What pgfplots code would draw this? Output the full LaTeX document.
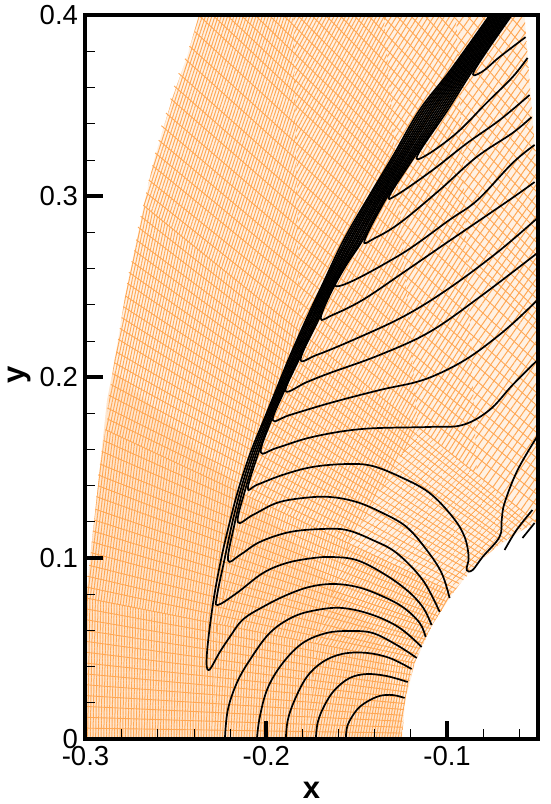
\documentclass[border=0pt]{standalone}
\usepackage{fontspec}
\setmainfont{Liberation Sans}
\usepackage{pgfplots}
\pgfplotsset{compat=1.18}
\usetikzlibrary{patterns.meta}
\definecolor{meshc}{RGB}{255,168,85}
\definecolor{meshb}{RGB}{255,241,227}
\definecolor{meshp}{RGB}{255,230,206}
\newcommand{\hatch}[3]{\addplot[draw=none,forget plot,mark=none,pattern={Lines[angle=#1,distance=#2pt,line width=1pt]},pattern color=meshc] coordinates {#3} --cycle;}
\pgfplotsset{cc/.style={black,solid,mark=none,line width=1.7pt,smooth,tension=0.6,forget plot,line join=round}}
\begin{document}
\begin{tikzpicture}
\path[use as bounding box] (-85.5pt,-65pt) rectangle (464.5pt,739pt);
\begin{axis}[
 at={(0pt,0pt)},anchor=south west,
 scale only axis,width=452pt,height=723.6pt,
 xmin=-0.3,xmax=-0.05,ymin=0,ymax=0.4,
 axis line style={line width=4pt,line cap=rect},
 axis on top,tick align=inside,
 xtick pos=bottom,ytick pos=left,
 xtick={-0.3,-0.2,-0.1},xticklabels={-0.3,-0.2,-0.1},
 ytick={0,0.1,0.2,0.3,0.4},yticklabels={0,0.1,0.2,0.3,0.4},
 minor xtick={-0.28,-0.26,-0.24,-0.22,-0.18,-0.16,-0.14,-0.12,-0.08,-0.06},
 minor ytick={0.02,0.04,0.06,0.08,0.12,0.14,0.16,0.18,0.22,0.24,0.26,0.28,0.32,0.34,0.36,0.38},
 major tick length=18pt,minor tick length=10pt,
 every major tick/.append style={line width=4pt,black},
 every minor tick/.append style={line width=0.9pt,black},
 tick label style={font=\fontsize{27.5}{30}\selectfont},
 xticklabel style={yshift=-4pt},
 yticklabel style={xshift=-4pt},
 xlabel={x},ylabel={y},
 every axis x label/.style={at={(axis description cs:0.5,0)},anchor=center,inner sep=0pt,yshift=-51pt,font=\fontsize{31}{31}\selectfont\bfseries},
 every axis y label/.style={at={(axis description cs:-0.146,0.503)},anchor=center,inner sep=0pt,rotate=90,font=\fontsize{31}{31}\selectfont\bfseries},
]
% mesh base
\addplot[draw=none,mark=none,fill=meshb,forget plot] coordinates {(-.3,0)(-.3,.074)(-.2986,.088)(-.2959,.114)(-.292,.15)(-.2881,.187)(-.2848,.204)(-.2782,.244)(-.2727,.271)(-.2671,.298)(-.2616,.322)(-.2517,.355)(-.2439,.377)(-.2373,.4)(-.0572,.4)(-.0517,.33)(-.05,.31)(-.05,.12)(-.0548,.1175)(-.0645,.1117)(-.0737,.1052)(-.0823,.0981)(-.0898,.0898)(-.0965,.081)(-.1085,.0627)(-.1175,.0428)(-.1231,.0217)(-.125,0)} --cycle;
\addplot[draw=none,mark=none,fill=meshp,forget plot] coordinates {(-.3,0)(-.3,.074)(-.2986,.088)(-.2959,.114)(-.292,.15)(-.2881,.187)(-.2848,.204)(-.2,.125)(-.14,.06)(-.125,.01)(-.125,0)} --cycle;
% mesh family along the shock
\hatch{89}{2.7}{(-.3,0)(-.3,.078)(-.2272,.0636)(-.23,0)}
\hatch{87}{2.7}{(-.23,0)(-.2272,.0636)(-.1726,.0528)(-.1775,0)}
\hatch{80}{2.7}{(-.1775,0)(-.1726,.0528)(-.118,.042)(-.1231,.0217)(-.125,0)}
\hatch{83}{2.8}{(-.3,.078)(-.2959,.114)(-.292,.15)(-.289,.171)(-.212,.135)(-.2272,.0636)}
\hatch{75}{2.8}{(-.2272,.0636)(-.212,.135)(-.1543,.108)(-.1726,.0528)}
\hatch{60}{3}{(-.1726,.0528)(-.1543,.108)(-.0965,.081)(-.1085,.0627)(-.118,.042)}
\hatch{78}{2.9}{(-.289,.171)(-.2848,.204)(-.2782,.244)(-.2727,.271)(-.268,.295)(-.1812,.225)(-.212,.135)}
\hatch{64}{3.2}{(-.212,.135)(-.1812,.225)(-.1161,.1725)(-.1543,.108)}
\hatch{47}{4}{(-.1543,.108)(-.1161,.1725)(-.051,.12)(-.0645,.1117)(-.0737,.1052)(-.0823,.0981)(-.0898,.0898)(-.0965,.081)}
\hatch{72}{3}{(-.268,.295)(-.2616,.322)(-.2517,.355)(-.2439,.377)(-.2373,.4)(-.185,.4)(-.1812,.225)}
\hatch{62}{3.4}{(-.1812,.225)(-.185,.4)(-.135,.4)(-.1161,.1725)}
\hatch{58}{4.5}{(-.1161,.1725)(-.135,.4)(-.095,.4)(-.0835,.146)}
\hatch{55}{6}{(-.0835,.146)(-.095,.4)(-.0572,.4)(-.0517,.33)(-.05,.31)(-.05,.12)(-.051,.12)}
% mesh family running from shock to body
\addplot[meshc,solid,mark=none,line width=0.9pt,forget plot] table[row sep=\\] {
-.3 .006\\-.12496 .0033\\\\-.3 .012\\-.1248 .0065\\\\-.3 .018\\-.1246 .0098\\\\-.3 .024\\-.1243 .0131\\\\
-.3 .03\\-.1239 .0163\\\\-.3 .036\\-.1235 .0196\\\\-.3 .042\\-.1229 .0228\\\\-.3 .048\\-.1223 .026\\\\
-.3 .054\\-.1215 .0292\\\\-.3 .06\\-.1207 .0324\\\\-.3 .066\\-.1198 .0355\\\\-.3 .072\\-.1189 .0386\\\\
-.3 .078\\-.118 .042\\\\-.2995 .084\\-.117 .045\\\\-.299 .09\\-.116 .047\\\\-.298 .096\\-.115 .05\\\\
-.297 .103\\-.113 .053\\\\-.2965 .109\\-.112 .055\\\\-.296 .115\\-.111 .058\\\\-.295 .121\\-.109 .061\\\\
-.2945 .127\\-.108 .063\\\\-.294 .134\\-.1065 .066\\\\-.293 .14\\-.105 .068\\\\-.293 .146\\-.103 .071\\\\
-.292 .152\\-.102 .074\\\\-.291 .159\\-.1005 .076\\\\-.29 .165\\-.0985 .079\\\\-.289 .171\\-.0965 .081\\\\
-.288 .177\\-.095 .083\\\\-.288 .183\\-.0935 .086\\\\-.287 .19\\-.091 .088\\\\-.286 .196\\-.089 .09\\\\
-.285 .202\\-.087 .093\\\\-.284 .208\\-.085 .095\\\\-.283 .214\\-.083 .097\\\\-.282 .221\\-.081 .099\\\\
-.281 .227\\-.079 .101\\\\-.28 .233\\-.077 .103\\\\-.279 .239\\-.074 .105\\\\-.278 .245\\-.072 .107\\\\
-.277 .252\\-.069 .109\\\\-.276 .258\\-.067 .11\\\\-.2745 .264\\-.064 .112\\\\-.273 .27\\-.062 .114\\\\
-.272 .276\\-.059 .116\\\\-.271 .283\\-.056 .117\\\\-.2695 .289\\-.0535 .118\\\\-.268 .295\\-.051 .12\\\\
-.2665 .302\\-.05 .129\\\\-.265 .309\\-.05 .135\\\\-.263 .317\\-.05 .142\\\\-.2615 .324\\-.05 .1485\\\\
-.2595 .331\\-.05 .155\\\\-.258 .339\\-.05 .162\\\\-.2555 .346\\-.05 .169\\\\-.253 .354\\-.05 .177\\\\
-.251 .361\\-.05 .184\\\\-.2485 .368\\-.05 .191\\\\-.245 .376\\-.05 .2\\\\-.2425 .383\\-.05 .208\\\\
-.2395 .391\\-.05 .217\\\\-.2373 .4\\-.05 .226\\\\-.2295 .4\\-.05 .231\\\\-.2217 .4\\-.05 .237\\\\
-.2139 .4\\-.05 .243\\\\-.2061 .4\\-.05 .249\\\\-.1983 .4\\-.05 .255\\\\-.1905 .4\\-.05 .261\\\\
-.1827 .4\\-.05 .267\\\\-.1749 .4\\-.05 .274\\\\-.1671 .4\\-.05 .281\\\\-.1593 .4\\-.05 .287\\\\
-.1515 .4\\-.05 .294\\\\-.1437 .4\\-.05 .302\\\\-.1359 .4\\-.05 .309\\\\-.1281 .4\\-.05 .316\\\\
-.1203 .4\\-.051 .325\\\\-.1125 .4\\-.052 .334\\\\-.1047 .4\\-.053 .343\\\\-.0969 .4\\-.054 .353\\\\
-.0891 .4\\-.055 .363\\\\-.0813 .4\\-.055 .371\\\\-.0735 .4\\-.056 .381\\\\-.0657 .4\\-.0565 .39\\\\
};
% arcs round the stagnation point
\addplot[cc] coordinates {(-.156,0)(-.155,.0077)(-.150,.016)(-.1445,.0205)(-.1373,.0238)(-.1301,.0243)(-.1235,.0227)};
\addplot[cc] coordinates {(-.1726,0)(-.1715,.0094)(-.1677,.0188)(-.1622,.0271)(-.1539,.0337)(-.1445,.0359)(-.1334,.0348)(-.1218,.0315)};
\addplot[cc] coordinates {(-.1892,0)(-.1881,.0105)(-.1843,.0216)(-.1776,.0343)(-.1688,.0426)(-.1577,.0471)(-.1445,.0476)(-.1318,.0448)(-.1196,.0387)};
\addplot[cc] coordinates {(-.2052,0)(-.2036,.0122)(-.1992,.0282)(-.1909,.042)(-.1798,.0531)(-.1666,.0586)(-.1539,.0597)(-.1412,.0586)(-.1279,.052)(-.1168,.0448)};
\addplot[cc] coordinates {(-.2229,0)(-.2213,.016)(-.2163,.031)(-.2091,.0437)(-.1981,.0586)(-.1854,.0674)(-.1721,.0713)(-.1577,.0724)(-.1412,.0686)(-.1262,.0614)(-.1141,.0509)};
% contours that end in the shock band
\addplot[cc] coordinates {(-.1119,.0564)(-.1152,.0642)(-.1246,.073)(-.1373,.0796)(-.15,.0841)(-.1633,.0857)(-.176,.0841)(-.1887,.0796)(-.2019,.073)(-.213,.066)(-.2202,.0564)(-.2257,.0481)(-.2318,.0381)(-.2329,.0464)(-.2296,.0741)(-.2251,.0989)(-.2202,.12)(-.2152,.1387)(-.2086,.1586)(-.2014,.1763)(-.1948,.1924)(-.1876,.2101)(-.1776,.2327)(-.1693,.2504)(-.1572,.2758)(-.1428,.3007)(-.1296,.3228)(-.1152,.3477)(-.0981,.3698)(-.0765,.4)};
\addplot[cc] coordinates {(-.1086,.063)(-.1135,.073)(-.1224,.0824)(-.1356,.0917)(-.15,.0989)(-.1633,.1006)(-.1743,.1)(-.1887,.0973)(-.2019,.0917)(-.2163,.0807)(-.2268,.0741)(-.2273,.079)(-.2232,.0989)(-.2187,.12)(-.2139,.1387)(-.2075,.1586)(-.2006,.1763)(-.194,.1924)(-.1868,.2101)(-.1767,.2327)(-.1685,.2504)(-.1561,.2758)(-.1419,.3007)(-.1286,.3228)(-.114,.3477)(-.0971,.3698)(-.0756,.4)};
\addplot[cc] coordinates {(-.1041,.0702)(-.1135,.0879)(-.1279,.1028)(-.1412,.11)(-.1555,.1155)(-.1688,.1161)(-.187,.1144)(-.2036,.1089)(-.2146,.1017)(-.2212,.0989)(-.2173,.12)(-.2127,.1387)(-.2064,.1586)(-.1997,.1763)(-.1932,.1924)(-.1859,.2101)(-.1759,.2327)(-.1678,.2504)(-.1551,.2758)(-.1409,.3007)(-.1276,.3228)(-.1128,.3477)(-.0962,.3698)(-.0748,.4)};
\addplot[cc] coordinates {(-.0986,.0779)(-.103,.0917)(-.1113,.1045)(-.1224,.1172)(-.1356,.1249)(-.15,.131)(-.1649,.1338)(-.1798,.1332)(-.1942,.1305)(-.2075,.1238)(-.2158,.12)(-.2114,.1387)(-.2053,.1586)(-.1989,.1763)(-.1924,.1924)(-.1851,.2101)(-.175,.2327)(-.167,.2504)(-.154,.2758)(-.14,.3007)(-.1265,.3228)(-.1116,.3477)(-.0952,.3698)(-.0739,.4)};
\addplot[cc] coordinates {(-.05,.1675)(-.061,.1487)(-.0682,.1305)(-.0698,.1211)(-.071,.1117)(-.0804,.1006)(-.0859,.0934)(-.0892,.0934)(-.0881,.1006)(-.0903,.1117)(-.0969,.1227)(-.1097,.136)(-.1246,.1443)(-.1412,.1509)(-.1555,.152)(-.1743,.1504)(-.1909,.146)(-.2052,.1405)(-.2102,.1387)(-.2042,.1586)(-.1981,.1763)(-.1916,.1924)(-.1843,.2101)(-.1742,.2327)(-.1662,.2504)(-.153,.2758)(-.1391,.3007)(-.1255,.3228)(-.1104,.3477)(-.0943,.3698)(-.073,.4)};
\addplot[cc] coordinates {(-.05,.2095)(-.0638,.1957)(-.0765,.1819)(-.0914,.1736)(-.1097,.1725)(-.1467,.1714)(-.1743,.167)(-.1942,.1609)(-.2031,.1586)(-.1972,.1763)(-.1908,.1924)(-.1834,.2101)(-.1733,.2327)(-.1654,.2504)(-.1519,.2758)(-.1381,.3007)(-.1245,.3228)(-.1092,.3477)(-.0933,.3698)(-.0721,.4)};
\addplot[cc] coordinates {(-.05,.2427)(-.0616,.2316)(-.0726,.2222)(-.0876,.2111)(-.1025,.2029)(-.1168,.1974)(-.1373,.1929)(-.1649,.1857)(-.187,.1791)(-.1964,.1763)(-.1901,.1924)(-.1826,.2101)(-.1724,.2327)(-.1647,.2504)(-.1509,.2758)(-.1372,.3007)(-.1235,.3228)(-.1081,.3477)(-.0924,.3698)(-.0713,.4)};
\addplot[cc] coordinates {(-.05,.2687)(-.082,.2443)(-.1097,.225)(-.1373,.2123)(-.1649,.2023)(-.1776,.1973)(-.1893,.1924)(-.1818,.2101)(-.1716,.2327)(-.1639,.2504)(-.1498,.2758)(-.1363,.3007)(-.1225,.3228)(-.1069,.3477)(-.0914,.3698)(-.0704,.4)};
\addplot[cc] coordinates {(-.05,.288)(-.0726,.2687)(-.1003,.2482)(-.1246,.2333)(-.1522,.2205)(-.1721,.2123)(-.181,.2101)(-.1707,.2327)(-.1631,.2504)(-.1488,.2758)(-.1354,.3007)(-.1214,.3228)(-.1057,.3477)(-.0905,.3698)(-.0695,.4)};
\addplot[cc] coordinates {(-.0516,.3079)(-.0655,.298)(-.1003,.2743)(-.1246,.2576)(-.1467,.2427)(-.1633,.2344)(-.1699,.2327)(-.1624,.2504)(-.1477,.2758)(-.1344,.3007)(-.1204,.3228)(-.1045,.3477)(-.0895,.3698)(-.0687,.4)};
\addplot[cc] coordinates {(-.0516,.3284)(-.0638,.3184)(-.0831,.298)(-.0986,.287)(-.1279,.2665)(-.1616,.2504)(-.1467,.2758)(-.1335,.3007)(-.1194,.3228)(-.1033,.3477)(-.0886,.3698)(-.0678,.4)};
\addplot[cc] coordinates {(-.0533,.3438)(-.0638,.335)(-.0837,.3217)(-.1041,.3035)(-.1262,.2852)(-.14,.2769)(-.1456,.2758)(-.1326,.3007)(-.1184,.3228)(-.1021,.3477)(-.0876,.3698)(-.0669,.4)};
\addplot[cc] coordinates {(-.0544,.356)(-.071,.3421)(-.0892,.3292)(-.108,.3145)(-.1279,.3007)(-.1317,.3007)(-.1174,.3228)(-.1009,.3477)(-.0867,.3698)(-.0661,.4)};
\addplot[cc] coordinates {(-.0555,.3765)(-.0638,.3659)(-.0782,.3516)(-.0947,.335)(-.1113,.3228)(-.1163,.3228)(-.0997,.3477)(-.0857,.3698)(-.0652,.4)};
\addplot[cc] coordinates {(-.0566,.388)(-.071,.377)(-.0809,.3687)(-.0848,.3698)(-.0643,.4)};
% short pieces near the body at the right
\addplot[cc] coordinates {(-.0682,.1045)(-.0616,.1155)(-.0528,.1266)};
\addplot[cc] coordinates {(-.0583,.1111)(-.0516,.1194)};
\end{axis}
\end{tikzpicture}
\end{document}
